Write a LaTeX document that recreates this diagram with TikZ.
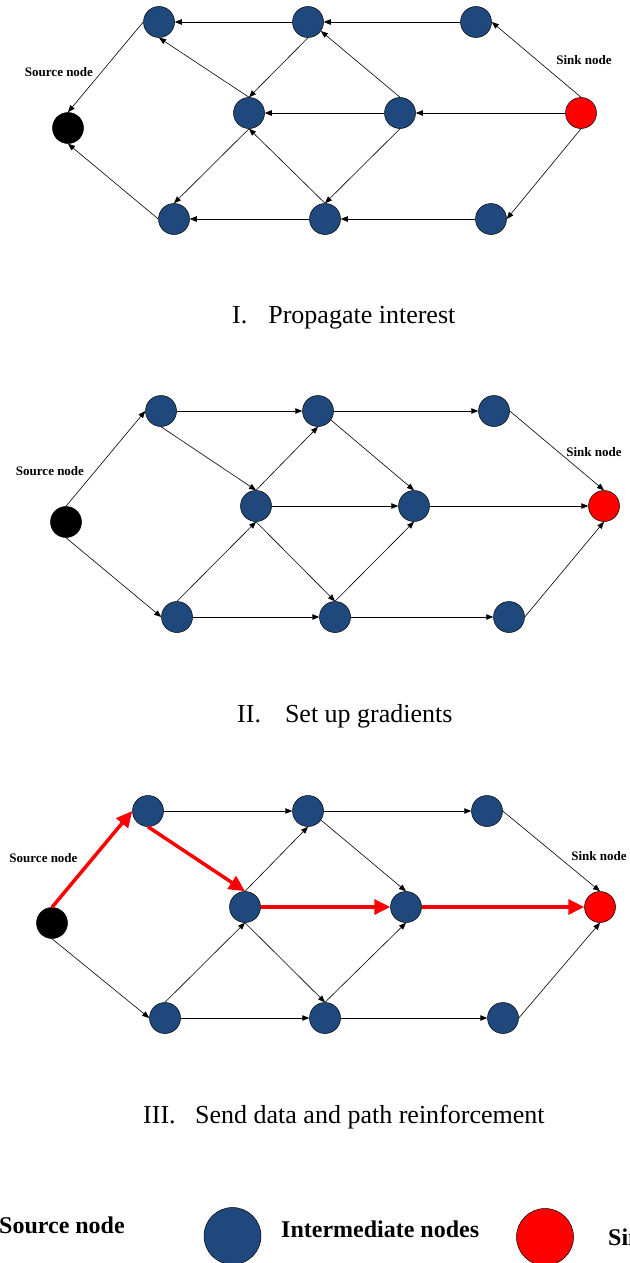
\documentclass[tikz,border=0pt]{standalone}
\usepackage{fontspec}
\setmainfont{Liberation Serif}
\usetikzlibrary{arrows.meta}
\definecolor{nodeblue}{RGB}{31,73,125}
\definecolor{sinkred}{RGB}{255,0,0}
\begin{document}
\begin{tikzpicture}[x=1pt,y=-1pt,
  mid/.style={circle,draw=black,line width=0.5pt,fill=nodeblue,minimum size=31pt,inner sep=0pt},
  src/.style={mid,fill=black},
  snk/.style={mid,fill=sinkred},
  lbl/.style={font=\fontsize{13}{15}\selectfont\bfseries,inner sep=0pt},
  captext/.style={font=\fontsize{26}{30}\selectfont,inner sep=0pt,anchor=base west},
  legtext/.style={font=\fontsize{24}{28}\selectfont\bfseries,inner sep=0pt,anchor=base west},
  conn/.style={draw=black,line width=0.6pt,-{Triangle[length=7pt,width=5.5pt]}},
  hot/.style={draw=sinkred,line width=3.5pt,-{Triangle[length=16pt,width=15pt]}}
]
\useasboundingbox (0,0) rectangle (629,1263);
\clip (0,0) rectangle (629,1263);

% ---------- Panel I ----------
\node[src] (pS) at (68,128) {};
\node[mid] (pT1) at (159,22) {};
\node[mid] (pT2) at (308,22) {};
\node[mid] (pT3) at (476,22) {};
\node[mid] (pM1) at (249,113) {};
\node[mid] (pM2) at (400,113) {};
\node[snk] (pK) at (581,113) {};
\node[mid] (pB1) at (174,219) {};
\node[mid] (pB2) at (325,219) {};
\node[mid] (pB3) at (491,219) {};
\node[lbl] (pSl) at (59,72) {Source node};
\node[lbl] (pKl) at (584,60) {Sink node};

\draw[conn] (pT2.west) -- (pT1.east);
\draw[conn] (pT3.west) -- (pT2.east);
\draw[conn] (pK.north) -- (pT3.east);
\draw[conn] (pM1.north) -- (pT1.south);
\draw[conn] (pT2.south) -- (pM1.north);
\draw[conn] (pM2.north) -- (pT2.-35);
\draw[conn] (pK.west) -- (pM2.east);
\draw[conn] (pM2.west) -- (pM1.east);
\draw[conn] (pM2.south) -- (pB2.north);
\draw[conn] (pB2.north) -- (pM1.south);
\draw[conn] (pM1.south) -- (pB1.north);
\draw[conn] (pK.south) -- (pB3.east);
\draw[conn] (pB3.west) -- (pB2.east);
\draw[conn] (pB2.west) -- (pB1.east);
\draw[conn] (pB1.west) -- (pS.south);
\draw[conn] (pT1.west) -- (pS.north);

\node[captext] (c1) at (232,323) {I.\hspace{21pt}Propagate interest};

% ---------- Panel II ----------
\node[src] (qS) at (66,522) {};
\node[mid] (qT1) at (161,411) {};
\node[mid] (qT2) at (318,411) {};
\node[mid] (qT3) at (494,411) {};
\node[mid] (qM1) at (256,506) {};
\node[mid] (qM2) at (414,506) {};
\node[snk] (qK) at (604,506) {};
\node[mid] (qB1) at (177,617) {};
\node[mid] (qB2) at (335,617) {};
\node[mid] (qB3) at (509,617) {};
\node[lbl] (qSl) at (50,471) {Source node};
\node[lbl] (qKl) at (594,452) {Sink node};

\draw[conn] (qS.north) -- (qT1.west);
\draw[conn] (qS.south) -- (qB1.west);
\draw[conn] (qT1.east) -- (qT2.west);
\draw[conn] (qT2.east) -- (qT3.west);
\draw[conn] (qT1.south) -- (qM1.north);
\draw[conn] (qM1.north) -- (qT2.south);
\draw[conn] (qT2.-35) -- (qM2.north);
\draw[conn] (qT3.east) -- (qK.north);
\draw[conn] (qM1.east) -- (qM2.west);
\draw[conn] (qM2.east) -- (qK.west);
\draw[conn] (qB1.north) -- (qM1.south);
\draw[conn] (qM1.south) -- (qB2.north);
\draw[conn] (qB2.north) -- (qM2.south);
\draw[conn] (qB1.east) -- (qB2.west);
\draw[conn] (qB2.east) -- (qB3.west);
\draw[conn] (qB3.east) -- (qK.south);

\node[captext] (c2) at (237,722) {II.\hspace{24pt}Set up gradients};

% ---------- Panel III ----------
\node[src] (rS) at (52,923) {};
\node[mid] (rT1) at (148,811) {};
\node[mid] (rT2) at (308,811) {};
\node[mid] (rT3) at (487,811) {};
\node[mid] (rM1) at (245,907) {};
\node[mid] (rM2) at (406,907) {};
\node[snk] (rK) at (600,907) {};
\node[mid] (rB1) at (165,1018) {};
\node[mid] (rB2) at (325,1018) {};
\node[mid] (rB3) at (503,1018) {};
\node[lbl] (rSl) at (43.5,858) {Source node};
\node[lbl] (rKl) at (599,856) {Sink node};

\draw[hot] (rS.north) -- (rT1.west);
\draw[conn] (rS.south) -- (rB1.west);
\draw[conn] (rT1.east) -- (rT2.west);
\draw[conn] (rT2.east) -- (rT3.west);
\draw[hot] (rT1.south) -- (rM1.north);
\draw[conn] (rM1.north) -- (rT2.south);
\draw[conn] (rT2.-35) -- (rM2.north);
\draw[conn] (rT3.east) -- (rK.north);
\draw[hot] (rM1.east) -- (rM2.west);
\draw[hot] (rM2.east) -- (rK.west);
\draw[conn] (rB1.north) -- (rM1.south);
\draw[conn] (rM1.south) -- (rB2.north);
\draw[conn] (rB2.north) -- (rM2.south);
\draw[conn] (rB1.east) -- (rB2.west);
\draw[conn] (rB2.east) -- (rB3.west);
\draw[conn] (rB3.east) -- (rK.south);

\node[captext] (c3) at (143,1123) {III.\hspace{19.5pt}Send data and path reinforcement};

% ---------- Legend ----------
\node[legtext] (l1) at (-1,1233) {Source node};
\node[mid,minimum size=57pt] (l2) at (232.5,1236) {};
\node[legtext] (l3) at (281,1237) {Intermediate nodes};
\node[snk,minimum size=57pt] (l4) at (545,1237) {};
\node[legtext] (l5) at (608,1245) {Sink node};
\end{tikzpicture}
\end{document}
